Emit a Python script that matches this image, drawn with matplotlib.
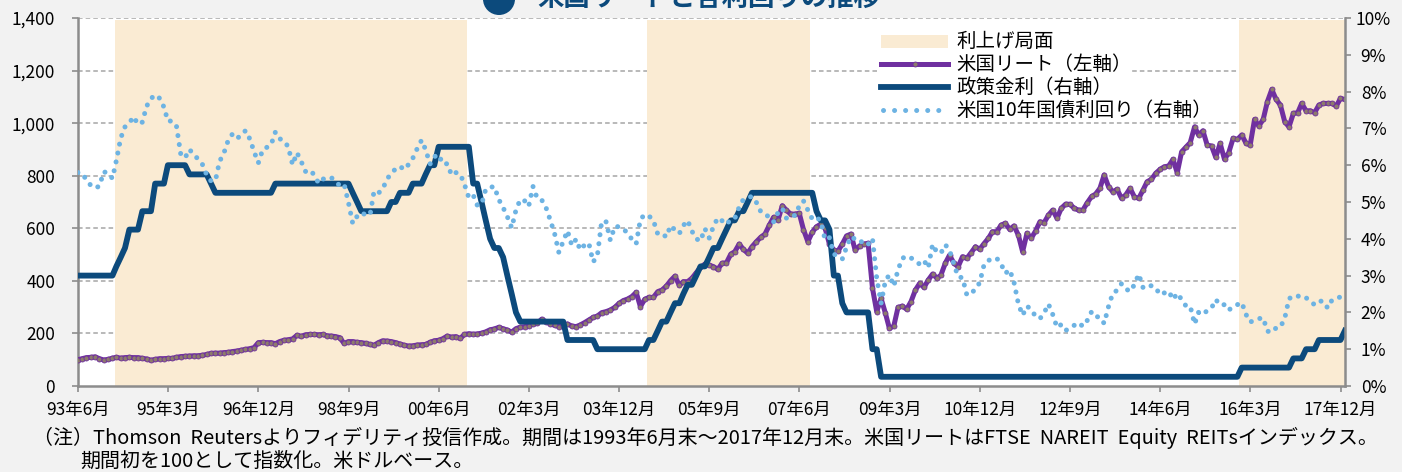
import pandas as pd
import matplotlib
matplotlib.use("Agg")
import matplotlib.pyplot as plt
import matplotlib.ticker as mtick
from matplotlib.patches import Rectangle, Ellipse
from matplotlib.lines import Line2D

plt.rcParams["font.family"] = ["Noto Sans CJK JP", "DejaVu Sans"]

# month-end dates, base month (May 1993) to Dec 2017
dates = pd.date_range("1993-05-31", "2017-12-31", freq="ME")

# US REIT index (start = 100)
reit = [
    100, 104, 108, 109, 111, 104, 99, 101, 106, 109,
    106, 108, 109, 108, 108, 105, 103, 98, 101, 104,
    104, 105, 105, 109, 112, 113, 114, 115, 115, 117,
    120, 124, 125, 125, 127, 128, 131, 133, 136, 139,
    142, 146, 165, 166, 165, 165, 161, 169, 174, 176,
    179, 193, 189, 195, 196, 196, 195, 196, 191, 190,
    188, 184, 162, 169, 169, 166, 165, 162, 158, 155,
    165, 172, 171, 169, 165, 160, 155, 152, 153, 156,
    157, 158, 166, 172, 174, 180, 190, 186, 188, 181,
    196, 199, 197, 198, 201, 206, 214, 217, 223, 218,
    213, 205, 218, 224, 226, 229, 236, 238, 254, 245,
    236, 231, 226, 228, 236, 228, 226, 232, 241, 251,
    261, 266, 279, 283, 289, 299, 314, 325, 331, 340,
    356, 302, 330, 337, 337, 359, 365, 380, 401, 418,
    383, 397, 397, 410, 431, 451, 464, 460, 454, 444,
    467, 469, 502, 511, 540, 520, 505, 530, 549, 566,
    578, 612, 642, 631, 686, 669, 654, 654, 657, 595,
    549, 585, 606, 616, 600, 540, 517, 513, 540, 571,
    578, 517, 533, 540, 543, 372, 283, 333, 276, 219,
    228, 299, 304, 292, 321, 365, 390, 375, 403, 426,
    410, 422, 467, 498, 467, 454, 492, 486, 507, 530,
    520, 542, 562, 587, 587, 612, 619, 596, 609, 574,
    511, 581, 562, 590, 625, 621, 650, 669, 638, 676,
    692, 691, 676, 669, 669, 697, 721, 730, 752, 803,
    758, 739, 748, 714, 727, 752, 720, 714, 746, 777,
    786, 809, 824, 834, 837, 862, 811, 891, 908, 926,
    986, 955, 971, 917, 913, 870, 923, 862, 888, 942,
    938, 955, 923, 917, 1014, 989, 1014, 1082, 1128, 1090,
    1069, 1005, 986, 1037, 1040, 1075, 1047, 1047, 1040, 1069,
    1075, 1075, 1075, 1065, 1094, 1090,
]

# policy rate, % (1993 row starts in May)
policy_rate = [
    3.00, 3.00, 3.00, 3.00, 3.00, 3.00, 3.00, 3.00,
    3.00, 3.25, 3.50, 3.75, 4.25, 4.25, 4.25, 4.75, 4.75, 4.75, 5.50, 5.50,
    5.50, 6.00, 6.00, 6.00, 6.00, 6.00, 5.75, 5.75, 5.75, 5.75, 5.75, 5.50,
    5.25, 5.25, 5.25, 5.25, 5.25, 5.25, 5.25, 5.25, 5.25, 5.25, 5.25, 5.25,
    5.25, 5.25, 5.50, 5.50, 5.50, 5.50, 5.50, 5.50, 5.50, 5.50, 5.50, 5.50,
    5.50, 5.50, 5.50, 5.50, 5.50, 5.50, 5.50, 5.50, 5.25, 5.00, 4.75, 4.75,
    4.75, 4.75, 4.75, 4.75, 4.75, 5.00, 5.00, 5.25, 5.25, 5.25, 5.50, 5.50,
    5.50, 5.75, 6.00, 6.00, 6.50, 6.50, 6.50, 6.50, 6.50, 6.50, 6.50, 6.50,
    5.50, 5.50, 5.00, 4.50, 4.00, 3.75, 3.75, 3.50, 3.00, 2.50, 2.00, 1.75,
    1.75, 1.75, 1.75, 1.75, 1.75, 1.75, 1.75, 1.75, 1.75, 1.75, 1.25, 1.25,
    1.25, 1.25, 1.25, 1.25, 1.25, 1.00, 1.00, 1.00, 1.00, 1.00, 1.00, 1.00,
    1.00, 1.00, 1.00, 1.00, 1.00, 1.25, 1.25, 1.50, 1.75, 1.75, 2.00, 2.25,
    2.25, 2.50, 2.75, 2.75, 3.00, 3.25, 3.25, 3.50, 3.75, 3.75, 4.00, 4.25,
    4.50, 4.50, 4.75, 4.75, 5.00, 5.25, 5.25, 5.25, 5.25, 5.25, 5.25, 5.25,
    5.25, 5.25, 5.25, 5.25, 5.25, 5.25, 5.25, 5.25, 4.75, 4.50, 4.50, 4.25,
    3.00, 3.00, 2.25, 2.00, 2.00, 2.00, 2.00, 2.00, 2.00, 1.00, 1.00, 0.25,
    0.25, 0.25, 0.25, 0.25, 0.25, 0.25, 0.25, 0.25, 0.25, 0.25, 0.25, 0.25,
    0.25, 0.25, 0.25, 0.25, 0.25, 0.25, 0.25, 0.25, 0.25, 0.25, 0.25, 0.25,
    0.25, 0.25, 0.25, 0.25, 0.25, 0.25, 0.25, 0.25, 0.25, 0.25, 0.25, 0.25,
    0.25, 0.25, 0.25, 0.25, 0.25, 0.25, 0.25, 0.25, 0.25, 0.25, 0.25, 0.25,
    0.25, 0.25, 0.25, 0.25, 0.25, 0.25, 0.25, 0.25, 0.25, 0.25, 0.25, 0.25,
    0.25, 0.25, 0.25, 0.25, 0.25, 0.25, 0.25, 0.25, 0.25, 0.25, 0.25, 0.25,
    0.25, 0.25, 0.25, 0.25, 0.25, 0.25, 0.25, 0.25, 0.25, 0.25, 0.25, 0.50,
    0.50, 0.50, 0.50, 0.50, 0.50, 0.50, 0.50, 0.50, 0.50, 0.50, 0.50, 0.75,
    0.75, 0.75, 1.00, 1.00, 1.00, 1.25, 1.25, 1.25, 1.25, 1.25, 1.25, 1.50,
]

# US 10-year treasury yield, % (1993 row starts in May)
treasury_10y = [
    5.80, 5.78, 5.60, 5.45, 5.38, 5.43, 5.82, 5.79,
    5.64, 6.13, 6.74, 7.04, 7.15, 7.32, 7.11, 7.17, 7.60, 7.81, 7.91, 7.82,
    7.58, 7.20, 7.20, 7.06, 6.28, 6.20, 6.43, 6.28, 6.17, 6.02, 5.74, 5.57,
    5.58, 6.10, 6.33, 6.67, 6.85, 6.73, 6.80, 6.94, 6.72, 6.37, 6.06, 6.42,
    6.49, 6.55, 6.90, 6.72, 6.66, 6.50, 6.01, 6.34, 6.10, 5.83, 5.87, 5.74,
    5.51, 5.62, 5.65, 5.67, 5.55, 5.45, 5.49, 4.98, 4.42, 4.61, 4.71, 4.65,
    4.65, 5.29, 5.24, 5.35, 5.62, 5.78, 5.90, 5.97, 5.88, 6.02, 6.19, 6.45,
    6.68, 6.42, 6.03, 6.23, 6.29, 6.03, 6.04, 5.73, 5.80, 5.76, 5.48, 5.12,
    5.19, 4.92, 4.93, 5.35, 5.40, 5.42, 5.07, 4.85, 4.60, 4.30, 4.78, 5.07,
    5.03, 4.88, 5.42, 5.10, 5.06, 4.86, 4.51, 4.14, 3.63, 3.93, 4.22, 3.82,
    3.99, 3.70, 3.83, 3.89, 3.37, 3.54, 4.48, 4.46, 3.96, 4.33, 4.33, 4.27,
    4.15, 3.99, 3.86, 4.53, 4.66, 4.62, 4.50, 4.13, 4.14, 4.05, 4.36, 4.24,
    4.14, 4.36, 4.50, 4.21, 4.00, 3.94, 4.28, 4.02, 4.34, 4.57, 4.49, 4.39,
    4.53, 4.55, 4.86, 5.07, 5.12, 5.15, 4.99, 4.74, 4.64, 4.61, 4.46, 4.71,
    4.83, 4.56, 4.65, 4.63, 4.89, 5.03, 4.78, 4.54, 4.59, 4.48, 3.97, 4.03,
    3.59, 3.51, 3.45, 3.77, 4.06, 3.99, 3.99, 3.83, 3.85, 4.01, 2.93, 2.25,
    2.87, 3.02, 2.71, 3.16, 3.47, 3.53, 3.48, 3.40, 3.31, 3.41, 3.21, 3.85,
    3.63, 3.61, 3.84, 3.69, 3.31, 2.97, 2.94, 2.47, 2.52, 2.63, 2.81, 3.30,
    3.42, 3.42, 3.47, 3.32, 3.06, 3.16, 2.82, 2.23, 1.92, 2.17, 2.08, 1.89,
    1.83, 1.98, 2.23, 1.95, 1.59, 1.67, 1.51, 1.57, 1.65, 1.72, 1.62, 1.78,
    2.02, 1.89, 1.87, 1.70, 2.16, 2.52, 2.60, 2.78, 2.64, 2.57, 2.75, 3.04,
    2.67, 2.66, 2.73, 2.67, 2.48, 2.53, 2.58, 2.35, 2.52, 2.35, 2.18, 2.17,
    1.68, 2.00, 1.94, 2.05, 2.12, 2.35, 2.20, 2.21, 2.06, 2.16, 2.21, 2.27,
    1.94, 1.74, 1.78, 1.83, 1.85, 1.49, 1.46, 1.58, 1.60, 1.84, 2.37, 2.45,
    2.45, 2.39, 2.40, 2.29, 2.21, 2.31, 2.30, 2.12, 2.33, 2.38, 2.42, 2.40,
]

# rate-hike phases (shaded)
hike_periods = [
    ("1994-02-15", "2000-12-15"),
    ("2004-06-15", "2007-08-15"),
    ("2015-12-15", "2018-01-01"),
]

tick_dates = pd.date_range("1993-06-01", "2017-12-01", freq="21MS")
tick_labels = [f"{d.year % 100:02d}年{d.month}月" for d in tick_dates]

legend_labels = ["利上げ局面", "米国リート（左軸）", "政策金利（右軸）", "米国10年国債利回り（右軸）"]

title = "米国リートと各利回りの推移"
note1 = ("（注）Thomson  Reutersよりフィデリティ投信作成。期間は1993年6月末～2017年12月末。"
         "米国リートはFTSE  NAREIT  Equity  REITsインデックス。")
note2 = "期間初を100として指数化。米ドルベース。"

SHADE = "#faebd3"
PURPLE = "#7030a0"
NAVY = "#0c4a7c"
LIGHT = "#6db3e3"
GRID = "#a6a6a6"
SPINE = "#8c8c8c"
BG = "#f2f2f2"

W, H = 1402, 472


def fx(px):
    return px / W


def fy(py):
    return 1 - py / H


def main():
    fig = plt.figure(figsize=(W / 100, H / 100), dpi=100, facecolor=BG)
    ax = fig.add_axes([fx(78), fy(386), (1345 - 78) / W, (386 - 18) / H])
    ax.set_facecolor("white")

    for v in range(200, 1401, 200):
        ax.axhline(v, color=GRID, lw=1.1, dashes=(3, 2), zorder=0.5)
    for start, end in hike_periods:
        ax.axvspan(pd.Timestamp(start), pd.Timestamp(end), ymin=0, ymax=0.994,
                   color=SHADE, lw=0, zorder=1)

    ax.plot(dates, reit, color=PURPLE, lw=3.6, marker="o", ms=3.6,
            mfc="#8d7b6c", mec=PURPLE, mew=0.6, zorder=3)

    ax.set_xlim(pd.Timestamp("1993-06-01"), pd.Timestamp("2018-01-01"))
    ax.set_ylim(0, 1400)
    ax.set_yticks(range(0, 1401, 200))
    ax.yaxis.set_major_formatter(mtick.FuncFormatter(lambda v, p: f"{int(v):,}"))
    ax.set_xticks(tick_dates)
    ax.set_xticklabels(tick_labels)
    ax.tick_params(axis="x", direction="out", length=4.5, width=1.2, color=SPINE,
                   labelsize=12.5, pad=6)
    ax.tick_params(axis="y", direction="out", length=4.5, width=1.2, color=SPINE,
                   labelsize=12.5, pad=12)
    for side in ["top", "right"]:
        ax.spines[side].set_visible(False)
    for side in ["left", "bottom"]:
        ax.spines[side].set_color(SPINE)
        ax.spines[side].set_linewidth(1.8)

    ax2 = ax.twinx()
    ax2.plot(dates, policy_rate, color=NAVY, lw=4.2, zorder=2)
    ax2.plot(dates, treasury_10y, color=LIGHT, lw=3.6, linestyle=(0, (0.01, 1.8)),
             dash_capstyle="round", zorder=3)
    ax2.set_ylim(0, 10)
    ax2.set_yticks(range(0, 11))
    ax2.yaxis.set_major_formatter(mtick.FuncFormatter(lambda v, p: f"{int(v)}%"))
    ax2.tick_params(axis="y", direction="out", length=4.5, width=1.2, color=SPINE,
                    labelsize=12.5, pad=16)
    for lab in ax2.get_yticklabels():
        lab.set_horizontalalignment("center")
    for side in ["top", "left", "bottom"]:
        ax2.spines[side].set_visible(False)
    ax2.spines["right"].set_color(SPINE)
    ax2.spines["right"].set_linewidth(1.8)

    # legend, drawn by hand
    rows = [41.5, 64, 87, 110]
    x0, x1 = 881, 948
    fig.add_artist(Rectangle((fx(877), fy(122)), (956 - 877) / W, (122 - 29) / H,
                             transform=fig.transFigure, fc="white", ec="none"))
    fig.add_artist(Rectangle((fx(x0), fy(rows[0] + 6)), (x1 - x0) / W, 12 / H,
                             transform=fig.transFigure, fc=SHADE, ec="none"))
    fig.add_artist(Line2D([fx(x0), fx(x1)], [fy(rows[1])] * 2, transform=fig.transFigure,
                          color=PURPLE, lw=3.6))
    fig.add_artist(Line2D([fx((x0 + x1) / 2)], [fy(rows[1])], transform=fig.transFigure,
                          marker="o", ms=3.6, mfc="#8d7b6c", mec=PURPLE, mew=0.6))
    fig.add_artist(Line2D([fx(x0), fx(x1)], [fy(rows[2])] * 2, transform=fig.transFigure,
                          color=NAVY, lw=4.2))
    fig.add_artist(Line2D([fx(x0 + 2), fx(x1)], [fy(rows[3])] * 2, transform=fig.transFigure,
                          color=LIGHT, lw=3.6, linestyle=(0, (0.01, 2.2)),
                          dash_capstyle="round"))
    for label, ry in zip(legend_labels, rows):
        fig.text(fx(956), fy(ry), label, fontsize=14, va="center", ha="left",
                 bbox=dict(fc="white", ec="none", pad=0.5))

    # title, cut off at the top edge as in the source
    fig.add_artist(Ellipse((fx(499), fy(-1)), 32 / W, 32 / H, transform=fig.transFigure,
                           fc=NAVY, ec="none"))
    fig.text(fx(537), fy(6), title, fontsize=19, color=NAVY, fontweight="bold",
             va="baseline", ha="left")

    fig.text(fx(33), fy(438), note1, fontsize=14.4, va="center", ha="left")
    fig.text(fx(80), fy(461), note2, fontsize=14.4, va="center", ha="left")

    fig.savefig("out.png", dpi=100, facecolor=BG)
    plt.close(fig)


if __name__ == "__main__":
    main()
